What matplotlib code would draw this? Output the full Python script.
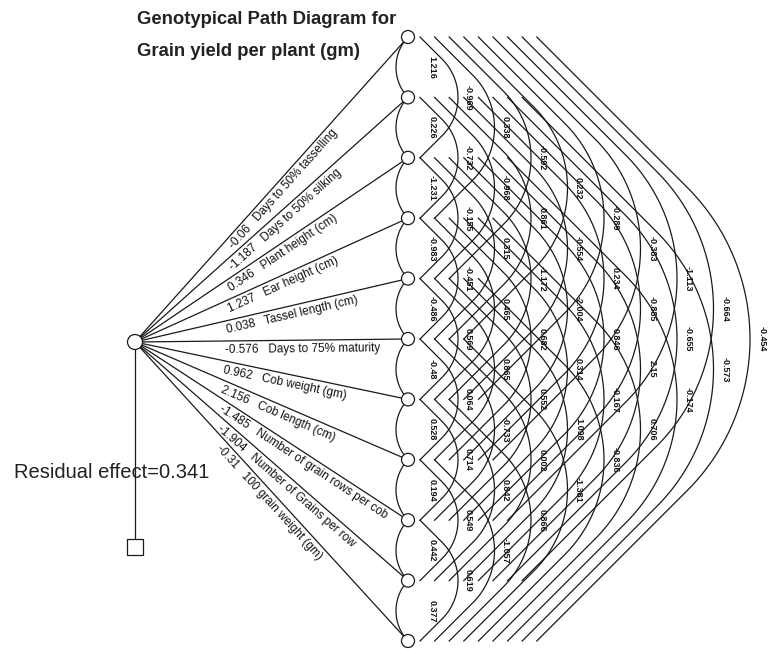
import numpy as np
import matplotlib.pyplot as plt
from matplotlib.patches import Circle, Rectangle

# traits and direct effects on grain yield
traits = ["Days to 50% tasselling", "Days to 50% silking", "Plant height (cm)",
          "Ear height (cm)", "Tassel length (cm)", "Days to 75% maturity",
          "Cob weight (gm)", "Cob length (cm)", "Number of grain rows per cob",
          "Number of Grains per row", "100 grain weight (gm)"]
direct_effects = [-0.06, -1.187, 0.346, 1.237, 0.038, -0.576, 0.962, 2.156,
                  -1.485, -1.904, -0.31]

# genotypic correlations, grouped by gap between traits (i, i+gap)
gap1 = [1.216, 0.226, -1.231, -0.983, -0.486, -0.48, 0.528, 0.194, 0.442, 0.377]
gap2 = [-0.969, -0.732, -0.155, -0.451, 0.569, 0.064, 0.714, 0.549, 0.619]
gap3 = [0.338, -0.968, 0.315, 0.465, 0.865, -0.733, 0.842, -1.057]
gap4 = [-0.592, 0.861, -1.172, 0.682, 0.552, 0.002, 0.866]
gap5 = [0.232, -0.554, -2.004, 0.314, 1.098, -1.381]
gap6 = [-0.289, 0.234, 0.846, -0.167, -0.836]
gap7 = [-0.383, -0.885, 2.15, 0.706]
gap8 = [-1.113, -0.655, -0.174]
gap9 = [-0.664, -0.573]
gap10 = [-0.454]
residual = 0.341

gaps = [gap1, gap2, gap3, gap4, gap5, gap6, gap7, gap8, gap9, gap10]

font = "Liberation Sans"

fig = plt.figure(figsize=(7.68, 6.54), dpi=100)
ax = fig.add_axes([0, 0, 1, 1])
ax.set_xlim(0, 768)
ax.set_ylim(654, 0)
ax.axis("off")

lc = "#1a1a1a"
tc = "#111111"
lw = 0.9

n = len(traits)
node_x = 408
node_y = np.linspace(37, 641, n)
cx0, cy0 = 135, 342

# central node and residual
ax.add_patch(Circle((cx0, cy0), 7.5, fc="white", ec=lc, lw=lw, zorder=5))
ax.plot([cx0, cx0], [cy0 + 7.5, 539], color=lc, lw=lw, zorder=1)
ax.add_patch(Rectangle((127, 539), 16, 16, fc="white", ec=lc, lw=lw, zorder=5))
ax.text(14, 473, f"Residual effect={residual}", fontsize=14.5, family=font,
        va="center", ha="left", color="#222", zorder=0)

# rays with direct effects
for k in range(n):
    dx, dy = node_x - cx0, node_y[k] - cy0
    L = np.hypot(dx, dy)
    ux, uy = dx / L, dy / L
    ax.plot([cx0 + 7.5 * ux, node_x - 6.5 * ux], [cy0 + 7.5 * uy, node_y[k] - 6.5 * uy],
            color=lc, lw=lw, zorder=2)
    ang = np.degrees(np.arctan2(-dy, dx))
    nx, ny = -dy / L, dx / L
    t = (225 - cx0) / dx
    px, py = cx0 + t * dx + 3 * nx, cy0 + t * dy + 3 * ny
    ax.text(px, py, f"{direct_effects[k]}   {traits[k]}", rotation=ang,
            rotation_mode="anchor", ha="left", va="top", fontsize=8.5,
            family=font, color=tc)

# nodes
for y in node_y:
    ax.add_patch(Circle((node_x, y), 6.5, fc="white", ec=lc, lw=lw, zorder=5))

# adjacent correlations: small arcs on the left side
for i, val in enumerate(gap1):
    y1, y2 = node_y[i], node_y[i + 1]
    ym, half = (y1 + y2) / 2, (y2 - y1) / 2
    sag = 12
    R = (half ** 2 + sag ** 2) / (2 * sag)
    cxa = node_x - sag + R
    a0 = np.arcsin(half / R)
    t = np.linspace(np.pi - a0, np.pi + a0, 40)
    ax.plot(cxa + R * np.cos(t), ym + R * np.sin(t), color=lc, lw=lw, zorder=1)
    ax.text(395 + 36.7, ym, str(val), rotation=-90, ha="center", va="center",
            fontsize=6.5, family=font, weight="bold", color=tc)

# longer correlations: wide arcs on the right side
c45 = np.cos(np.pi / 4)
for d in range(2, n):
    xs = 420 + 14.6 * (d - 2)
    xa = 385 + 36.5 * d
    for i, val in enumerate(gaps[d - 1]):
        y1, y2 = node_y[i], node_y[i + d]
        ym, v = (y1 + y2) / 2, (y2 - y1) / 2
        r = (v - (xa - xs)) / (2 * c45 - 1)
        cc = xa - r
        t = np.linspace(-np.pi / 4, np.pi / 4, 80)
        px = np.concatenate([[xs], cc + r * np.cos(t), [xs]])
        py = np.concatenate([[y1], ym + r * np.sin(t), [y2]])
        ax.plot(px, py, color=lc, lw=lw, zorder=1)
        ax.text(395 + 36.7 * d, ym, str(val), rotation=-90, ha="center", va="center",
                fontsize=6.5, family=font, weight="bold", color=tc)

# title
ax.text(137, 20, "Genotypical Path Diagram for", fontsize=13.3, weight="bold",
        family=font, va="center", ha="left", color="#222")
ax.text(137, 51, "Grain yield per plant (gm)", fontsize=13.3, weight="bold",
        family=font, va="center", ha="left", color="#222")

fig.savefig("out.png", dpi=100)
